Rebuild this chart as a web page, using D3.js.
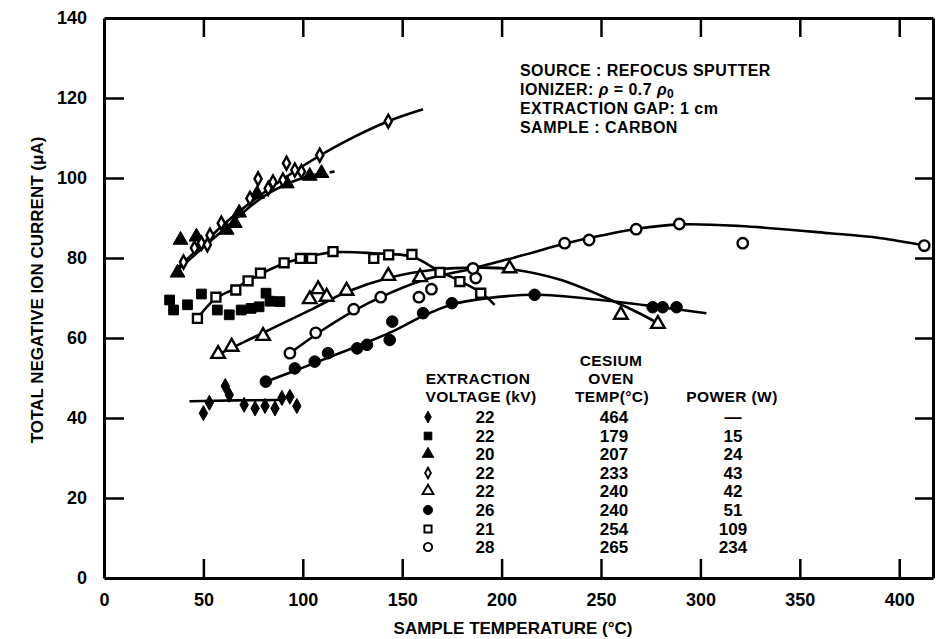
<!DOCTYPE html>
<html lang="en">
  <head>
    <title>Negative ion current vs sample temperature</title>
    <script src="https://d3js.org/d3.v7.min.js"></script>
    <style>
      body { margin: 0; background: #fff; }
      text { font-family: "Liberation Sans", Arial, sans-serif; font-weight: bold; fill: #000; }
    </style>
  </head>
  <body>
  <script>
  const width = 937;
  const height = 639;

  const xTicks = [0, 50, 100, 150, 200, 250, 300, 350, 400];
  const yTicks = [0, 20, 40, 60, 80, 100, 120, 140];

  // measured points, [temperature, current]
  const diamondFilled = [[50, 41.2], [53, 43.8], [61, 48], [63, 45.8], [70.5, 43.3], [76, 42.4], [81, 43], [86, 42.4], [89.5, 45], [93.5, 45.3], [97, 43]];
  const squareFilled = [[33, 69.5], [35, 67], [42, 68.3], [49, 71], [57, 67], [63, 65.8], [69, 67], [74, 67.4], [78, 67.8], [81.5, 71.2], [83.5, 69.2], [88.5, 69.1]];
  const triangleFilled = [[37, 76.3], [38.5, 84.5], [46.5, 85.3], [61.7, 87], [65.8, 88.7], [68, 91.3], [77, 96], [92, 98.6], [103.5, 100.5], [109.4, 101.2]];
  const diamondOpen = [[40, 79], [45.5, 82.5], [49, 83.7], [52, 83.3], [53.3, 85.7], [59, 88.7], [73.4, 94.9], [77.5, 99.8], [82.6, 97.4], [85, 99], [90, 99.5], [91.8, 103.7], [96, 102], [99.3, 101.6], [108.5, 105.7], [143, 114.2]];
  const triangleOpen = [[57.4, 56], [64.2, 57.8], [80, 60.5], [103.5, 69.7], [107.7, 72.2], [112, 70.3], [122, 71.8], [143, 75.5], [159, 75.2], [204, 77.4], [260, 65.8], [278.6, 63.5]];
  const circleFilled = [[81.4, 49.1], [96, 52.4], [106, 54.1], [112.7, 56.2], [127.3, 57.4], [132.3, 58.3], [143.7, 59.5], [145, 64.1], [160.5, 66.2], [175, 68.7], [216.6, 70.8], [276, 67.7], [281, 67.7], [288, 67.7]];
  const squareOpen = [[47, 64.9], [56.3, 70.2], [66.3, 72], [72.5, 74.3], [78.7, 76.2], [90.6, 78.8], [98.8, 79.9], [104.4, 79.9], [115.2, 81.6], [135.7, 79.9], [143.2, 80.8], [154.9, 80.9], [169, 76.4], [179, 74.1], [189.5, 71.2]];
  const circleOpen = [[93.5, 56.2], [106.5, 61.3], [125.6, 67.2], [139.2, 70.2], [158.4, 70.2], [164.7, 72.2], [187, 75], [185.6, 77.4], [231.7, 83.7], [244, 84.5], [267.7, 87.2], [289.4, 88.5], [321.3, 83.7], [412.6, 83.1]];

  // hand-drawn fit curves
  const fitDiamondFilled = [[43, 44.2], [65, 44.4], [89, 44.5]];
  const fitTriangleFilled = [[37, 77], [60, 87], [80, 95.3], [96, 99.3], [109, 101.2]];
  const fitTriangleFilledDash = [[109, 101.2], [116, 101.6]];
  const fitDiamondOpen = [[37, 77.5], [50, 83.5], [60, 88.3], [80, 96.2], [100, 103], [120, 108.8], [143, 114.2], [160.5, 117.2]];
  const fitTriangleOpen = [[55, 55.3], [80, 61.3], [105, 67.3], [122, 71.5], [143, 75], [165, 77], [190, 77.6], [205, 77.2], [230, 74.5], [255, 69.5], [270, 66], [281, 63]];
  const fitCircleFilled = [[81, 49], [100, 52.6], [120, 56.5], [145, 61.6], [160, 65.4], [175, 68.4], [192, 69.9], [217, 70.8], [250, 69.5], [280, 67.7], [303, 66.2]];
  const fitSquareOpen = [[47, 64.9], [56, 69.8], [66, 72.4], [78, 75.8], [90, 78.5], [100, 80], [115, 81.4], [135, 81.2], [155, 80.3], [169, 76.6], [180, 74], [190, 71.2], [196.5, 68.3]];
  const fitCircleOpen = [[93.5, 56.2], [110, 62], [125, 66.6], [140, 70.4], [160, 74.4], [185.6, 77.4], [210, 80.6], [232, 83.6], [250, 85.6], [268, 87.3], [290, 88.4], [320, 88], [365, 86.2], [390, 85], [413, 83.1]];

  // legend table
  const legendVoltage = ["22", "22", "20", "22", "22", "26", "21", "28"];
  const legendOvenTemp = ["464", "179", "207", "233", "240", "240", "254", "265"];
  const legendPower = ["\u2014", "15", "24", "43", "42", "51", "109", "234"];

  const noteLines = ["SOURCE : REFOCUS SPUTTER", "IONIZER:", "EXTRACTION GAP: 1 cm", "SAMPLE : CARBON"];

  const svg = d3.select(document.body).append('svg').attr('width', width).attr('height', height);

  const x = d3.scaleLinear().domain([0, 417]).range([104, 933]);
  const y = d3.scaleLinear().domain([0, 140]).range([578, 18]);

  // marker shapes
  const diamond = (w, h) => 'M0,' + (-h) + 'L' + w + ',0L0,' + h + 'L' + (-w) + ',0Z';
  const markers = {
    diamondFilled: { path: diamond(4.2, 7.5), fill: '#000' },
    squareFilled: { path: d3.symbol(d3.symbolSquare, 95)(), fill: '#000' },
    triangleFilled: { path: d3.symbol(d3.symbolTriangle, 95)(), fill: '#000' },
    diamondOpen: { path: diamond(3.6, 6.5), fill: '#fff' },
    triangleOpen: { path: d3.symbol(d3.symbolTriangle, 80)(), fill: '#fff' },
    circleFilled: { path: d3.symbol(d3.symbolCircle, 105)(), fill: '#000' },
    squareOpen: { path: d3.symbol(d3.symbolSquare, 80)(), fill: '#fff' },
    circleOpen: { path: d3.symbol(d3.symbolCircle, 85)(), fill: '#fff' }
  };

  // axes: ticks point inward
  const axisStyle = g => {
    g.select('.domain').attr('stroke-width', 3);
    g.selectAll('.tick line').attr('stroke-width', 2.5);
    g.selectAll('text').attr('font-size', '18px').attr('font-family', null).attr('fill', '#000');
  };

  svg.append('g').attr('transform', 'translate(0,' + y(0) + ')')
    .call(d3.axisBottom(x).tickValues(xTicks).tickSizeInner(-19).tickSizeOuter(0).tickPadding(15))
    .call(axisStyle)
    .call(g => g.selectAll('.tick').filter(d => d === 0).select('line').remove());

  svg.append('g').attr('transform', 'translate(' + x(0) + ',0)')
    .call(d3.axisLeft(y).tickValues(yTicks).tickSizeInner(-20).tickSizeOuter(0).tickPadding(17))
    .call(axisStyle)
    .call(g => g.selectAll('.tick').filter(d => d === 0 || d === 140).select('line').remove());

  svg.append('g').attr('transform', 'translate(0,' + y(140) + ')')
    .call(d3.axisTop(x).tickValues(xTicks.slice(1)).tickSizeInner(-19).tickSizeOuter(0).tickFormat(''))
    .call(axisStyle);

  svg.append('g').attr('transform', 'translate(' + x(417) + ',0)')
    .call(d3.axisRight(y).tickValues(yTicks.slice(1, -1)).tickSizeInner(-18).tickSizeOuter(0).tickFormat(''))
    .call(axisStyle);

  // axis titles
  svg.append('text')
    .attr('transform', 'translate(43,' + y(72) + ') rotate(-90)')
    .attr('text-anchor', 'middle')
    .attr('font-size', '17px')
    .text('TOTAL NEGATIVE ION CURRENT (\u03bcA)');

  svg.append('text')
    .attr('x', 513).attr('y', 634)
    .attr('text-anchor', 'middle')
    .attr('font-size', '17px')
    .text('SAMPLE TEMPERATURE (\u00b0C)');

  // fitted curves
  const line = d3.line().x(d => x(d[0])).y(d => y(d[1])).curve(d3.curveCatmullRom.alpha(0.5));
  const fits = [fitDiamondFilled, fitTriangleFilled, fitDiamondOpen, fitTriangleOpen, fitCircleFilled, fitSquareOpen, fitCircleOpen];
  svg.append('g').selectAll('path').data(fits).enter()
    .append('path')
    .attr('d', line)
    .attr('fill', 'none')
    .attr('stroke', '#000')
    .attr('stroke-width', 2.6);

  svg.append('path')
    .attr('d', line(fitTriangleFilledDash))
    .attr('fill', 'none')
    .attr('stroke', '#000')
    .attr('stroke-width', 2.6)
    .attr('stroke-dasharray', '5,4');

  // data points
  const series = [
    ['squareFilled', squareFilled],
    ['diamondFilled', diamondFilled],
    ['triangleFilled', triangleFilled],
    ['diamondOpen', diamondOpen],
    ['triangleOpen', triangleOpen],
    ['circleFilled', circleFilled],
    ['squareOpen', squareOpen],
    ['circleOpen', circleOpen]
  ];

  function drawMarker(sel, key) {
    const m = markers[key];
    sel.attr('d', m.path)
      .attr('fill', m.fill)
      .attr('stroke', '#000')
      .attr('stroke-width', m.fill === '#000' ? 1 : 2.4);
  }

  series.forEach(([key, pts]) => {
    svg.append('g').selectAll('path').data(pts).enter()
      .append('path')
      .attr('transform', d => 'translate(' + x(d[0]) + ',' + y(d[1]) + ')')
      .call(drawMarker, key);
  });

  // note block
  const note = svg.append('text').attr('x', 520).attr('font-size', '16px').attr('letter-spacing', '0.45px');
  const noteY = [76, 95, 114, 133];
  noteLines.forEach((t, i) => {
    note.append('tspan').attr('x', 520).attr('y', noteY[i]).text(t);
    if (i === 1) {
      note.append('tspan').attr('font-style', 'italic').text(' \u03c1');
      note.append('tspan').text(' = 0.7 ');
      note.append('tspan').attr('font-style', 'italic').text('\u03c1');
      note.append('tspan').attr('dy', 3).attr('font-size', '12px').text('0');
    }
  });

  // legend
  const legend = svg.append('g');
  const hdr = [
    ['EXTRACTION', 478, 384], ['VOLTAGE (kV)', 481, 402],
    ['CESIUM', 611, 366], ['OVEN', 611, 384], ['TEMP(\u00b0C)', 612, 402],
    ['POWER (W)', 732, 402]
  ];
  legend.selectAll('text.hdr').data(hdr).enter()
    .append('text').attr('class', 'hdr')
    .attr('x', d => d[1]).attr('y', d => d[2])
    .attr('text-anchor', 'middle')
    .attr('font-size', '15.5px')
    .attr('letter-spacing', '0.4px')
    .text(d => d[0]);

  const rowY = [417, 436, 454, 473, 491, 510, 529, 547];
  const legendKeys = ['diamondFilled', 'squareFilled', 'triangleFilled', 'diamondOpen', 'triangleOpen', 'circleFilled', 'squareOpen', 'circleOpen'];
  legendKeys.forEach((key, i) => {
    legend.append('path')
      .attr('transform', 'translate(428,' + rowY[i] + ') scale(0.8)')
      .call(drawMarker, key);
    legend.append('text').attr('x', 485).attr('y', rowY[i] + 6).attr('text-anchor', 'middle').attr('font-size', '17px').text(legendVoltage[i]);
    legend.append('text').attr('x', 614).attr('y', rowY[i] + 6).attr('text-anchor', 'middle').attr('font-size', '17px').text(legendOvenTemp[i]);
    legend.append('text').attr('x', 733).attr('y', rowY[i] + 6).attr('text-anchor', 'middle').attr('font-size', '17px').text(legendPower[i]);
  });
  </script>
  </body>
</html>
